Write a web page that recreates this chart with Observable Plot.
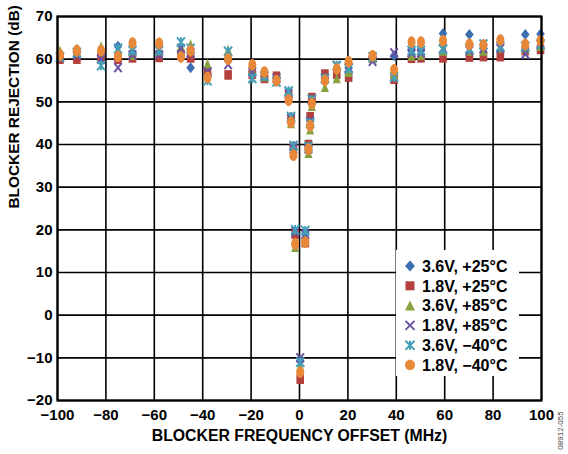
<!DOCTYPE html>
<html><head><meta charset="utf-8">
<script src="https://cdn.jsdelivr.net/npm/d3@7"></script>
<script src="https://cdn.jsdelivr.net/npm/@observablehq/plot@0.6"></script>
<style>
body{margin:0;background:#fff;}
#wrap{position:relative;width:568px;height:454px;}
</style></head><body><div id="wrap"></div>
<script>
// Blocker frequency offsets (MHz)
const offsets = [-99,-92,-82,-75,-69,-58,-49,-45,-38,-29.5,-19.5,-14.5,-9.5,-4.5,-3.5,-2.5,-1.8,0.3,2.4,3.7,4.4,5.1,10.5,15.4,20.3,30.2,39.1,46.3,50.2,59.3,70.2,76,83,93.3,99.6];
// Blocker rejection (dB) per series
const v36_p25 = [61,61.5,61,63,61.5,61.5,62,58,56.5,61,57,56,55.5,51.5,46,39,19,-10.6,19.5,39.5,45.5,50.5,55.5,57.5,58,60.5,60.8,62,62,66,65.8,62.5,62,65.8,65.9];
const v18_p25 = [60,60,60.5,60,60.3,60.4,61,60.3,57,56.3,56.5,55.5,56,51.4,46.3,39.5,19,-15,17,40,46.5,51,56.5,56.5,55.8,60.2,55.3,60.2,60.3,60.3,60.5,60.6,60.6,62,62.3];
const v36_p85 = [62,62.5,63,62,61,62,63,63.5,59,62.2,57.5,56,55,51,45,38,16,-12,18,38,43.5,49,53.5,55.5,57,60.3,56.5,60.8,61,62,62,62,62.7,62.5,63];
const v18_p85 = [60.5,61,60,58,61,61,62.5,61.5,57,58.7,57,56,55.5,52,46,39,19.5,-10,19,39,45.5,50.5,55.5,58.5,58,59.5,61.5,61.5,61.5,62.5,62,62.5,62.5,61.2,63.5];
const v36_m40 = [60.5,61.5,58.5,62.5,62,62,64,62.5,55,61.8,55.5,56,54.7,52.5,46.5,39.7,20,-11,19.8,39.5,45,50.5,55.5,58.5,57.8,60.5,55.8,62,62,62.3,62.5,63.5,63,63,63.5];
const v18_m40 = [61,62,62,60.6,63.8,63.7,60.5,62,55.7,60,58.7,57,55,50.4,45.2,37.5,16.7,-13.4,17.1,38.9,44.4,49.6,55,57.7,59.4,60.8,57.5,64,64,64.3,63.5,63.3,64.5,63.5,64.3];

const seriesNames = ["3.6V, +25°C","1.8V, +25°C","3.6V, +85°C","1.8V, +85°C","3.6V, \u221240°C","1.8V, \u221240°C"];
const seriesValues = [v36_p25, v18_p25, v36_p85, v18_p85, v36_m40, v18_m40];
const seriesColors = ["#3c6eb4","#b3403d","#86a23f","#6a51a3","#45a0b7","#e8893a"];
const xTicks = [-100,-80,-60,-40,-20,0,20,40,60,80,100];
const yTicks = [-20,-10,0,10,20,30,40,50,60,70];

// custom symbols (w = half width, h = half height)
const ellipse = (w,h) => ({draw(c){const k=0.5523;c.moveTo(0,-h);c.bezierCurveTo(k*w,-h,w,-k*h,w,0);c.bezierCurveTo(w,k*h,k*w,h,0,h);c.bezierCurveTo(-k*w,h,-w,k*h,-w,0);c.bezierCurveTo(-w,-k*h,-k*w,-h,0,-h);c.closePath();}});
const rectS = (w,h) => ({draw(c){c.moveTo(-w,-h);c.lineTo(w,-h);c.lineTo(w,h);c.lineTo(-w,h);c.closePath();}});
const triS = (w,h) => ({draw(c){c.moveTo(0,-h);c.lineTo(w,h);c.lineTo(-w,h);c.closePath();}});
const diaS = (w,h) => ({draw(c){c.moveTo(0,-h);c.lineTo(w,0);c.lineTo(0,h);c.lineTo(-w,0);c.closePath();}});
const crossS = (w,h) => ({draw(c){c.moveTo(-w,-h);c.lineTo(w,h);c.moveTo(w,-h);c.lineTo(-w,h);}});
const starS = (w,h) => ({draw(c){c.moveTo(-w,-h);c.lineTo(w,h);c.moveTo(w,-h);c.lineTo(-w,h);c.moveTo(0,-h);c.lineTo(0,h);}});

const plotSymbols = [diaS(4.3,5.5), rectS(3.8,4.8), triS(4,5), crossS(3.7,4.5), starS(4,4.8), ellipse(4,5.8)];
const legendSymbols = [diaS(5,5.5), rectS(4.5,4.5), triS(5,5), crossS(4.5,4.5), starS(4.5,4.5), ellipse(5,5.2)];
const stroked = [false,false,false,true,true,false];

const font = "'Liberation Sans', Arial, sans-serif";

const dotMarks = seriesValues.map((vals,i) => {
  const data = offsets.map((x,j) => ({x, y: vals[j]}));
  return Plot.dot(data, {x:"x", y:"y", symbol: plotSymbols[i],
    fill: stroked[i] ? "none" : seriesColors[i],
    stroke: stroked[i] ? seriesColors[i] : "none",
    strokeWidth: stroked[i] ? 2 : 0});
});

const chart = Plot.plot({
  width:568, height:454,
  marginLeft:57, marginRight:27, marginTop:16, marginBottom:54,
  x:{domain:[-100,100]},
  y:{domain:[-20,70]},
  style:{fontFamily:font, background:"white", color:"black"},
  marks:[
    Plot.gridX(xTicks, {stroke:"#000", strokeOpacity:1, strokeWidth:1.6}),
    Plot.gridY(yTicks, {stroke:"#000", strokeOpacity:1, strokeWidth:1.6}),
    Plot.axisX(xTicks, {tickSize:0, tickPadding:9, fontSize:15, fontWeight:"bold", label:null}),
    Plot.axisY(yTicks, {tickSize:0, tickPadding:5, fontSize:15, fontWeight:"bold", label:null}),
    ...dotMarks,
    Plot.frame({stroke:"#000", strokeWidth:2.2}),
    Plot.text(["BLOCKER FREQUENCY OFFSET (MHz)"], {frameAnchor:"bottom", dy:40, fontSize:15.8, fontWeight:"bold", fill:"#000"}),
    Plot.text(["BLOCKER REJECTION (dB)"], {frameAnchor:"left", dx:-43, rotate:-90, fontSize:15.4, fontWeight:"bold", fill:"#000"}),
    Plot.text(["08912-055"], {frameAnchor:"bottom-right", textAnchor:"middle", dx:21, dy:30, rotate:-90, fontSize:8, fill:"#444"})
  ]
});
document.getElementById("wrap").appendChild(chart);

// legend inside plot area
const svg = d3.select(chart);
const lg = svg.append("g").attr("transform","translate(396,250)");
lg.append("rect").attr("width",123).attr("height",126).attr("fill","white");
seriesNames.forEach((name,i) => {
  const cy = 16 + i*19.8;
  lg.append("path").attr("transform",`translate(14,${cy})`)
    .attr("d", d3.symbol(legendSymbols[i])())
    .attr("fill", stroked[i] ? "none" : seriesColors[i])
    .attr("stroke", stroked[i] ? seriesColors[i] : "none")
    .attr("stroke-width", 2);
  lg.append("text").attr("x",26).attr("y",cy).attr("dy","0.36em")
    .attr("text-anchor","start")
    .attr("font-family",font).attr("font-size",16).attr("font-weight","bold")
    .attr("fill","#000").text(name);
});
</script></body></html>
